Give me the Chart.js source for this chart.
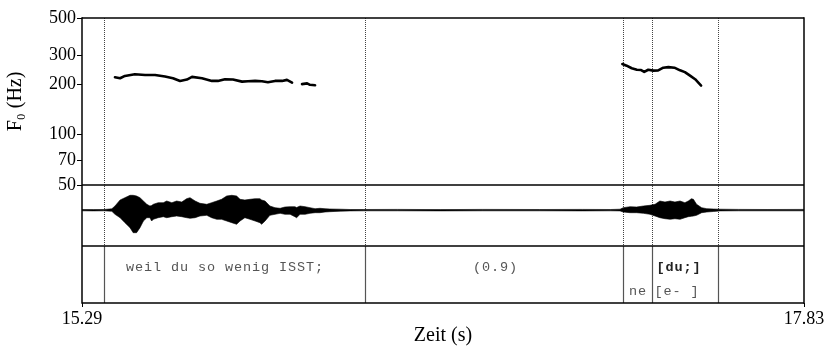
<!DOCTYPE html>
<html><head><meta charset="utf-8">
<script src="https://cdn.jsdelivr.net/npm/chart.js@4"></script>
<style>html,body{margin:0;padding:0;background:#fff}</style>
</head><body>
<canvas id="c" width="827" height="350"></canvas>
<script>
// ---- data ----
const timeRange = [15.29, 17.83];
const xTickLabels = ['15.29', '17.83'];
const pitchTicks = [50, 70, 100, 200, 300, 500];

const f0Seg1Time = [15.406,15.424,15.441,15.476,15.512,15.547,15.582,15.610,15.635,15.659,15.677,15.712,15.747,15.768,15.793,15.821,15.853,15.874,15.899,15.923,15.944,15.969,15.994,16.011,16.029];
const f0Seg1Hz   = [221,218,225,230,228,228,223,218,210,214,222,218,210,210,215,214,208,209,210,209,206,210,210,213,205];
const f0Seg2Time = [16.064,16.082,16.092,16.110];
const f0Seg2Hz   = [201,203,199,198];
const f0Seg3Time = [17.191,17.206,17.224,17.242,17.257,17.268,17.282,17.300,17.317,17.335,17.353,17.374,17.394,17.411,17.429,17.447,17.468];
const f0Seg3Hz   = [265,259,250,245,244,238,245,242,243,252,254,252,243,237,226,215,197];

const waveTime  = [15.290,15.330,15.367,15.395,15.406,15.424,15.441,15.459,15.470,15.482,15.494,15.506,15.518,15.529,15.535,15.541,15.558,15.576,15.588,15.606,15.623,15.641,15.658,15.670,15.688,15.705,15.729,15.746,15.764,15.781,15.799,15.817,15.834,15.846,15.863,15.881,15.899,15.916,15.922,15.934,15.951,15.969,15.987,16.004,16.022,16.039,16.045,16.057,16.075,16.092,16.110,16.127,16.145,16.162,16.198,16.233,16.279,16.400,16.550,16.700,16.900,17.050,17.150,17.183,17.194,17.218,17.241,17.265,17.288,17.306,17.323,17.341,17.359,17.376,17.394,17.411,17.423,17.434,17.441,17.452,17.470,17.488,17.511,17.534,17.600,17.700,17.830];
const waveUpper = [0.5,0.4,0.5,1.2,4,10,12.3,14.7,14.7,14,12.3,9,5.7,4,4.5,5.7,7.3,7.3,9,7.3,9,8,11.3,12.3,9,6.7,5.7,7.3,9,10.7,14,14.7,14,10.7,10,10.7,11.3,11.3,10,9,4,2.3,1.7,3,3.3,3.3,2.5,4,3.3,2.3,1.3,1.7,1.3,1,0.8,0.5,0.5,0.6,0.4,0.6,0.5,0.6,0.5,0.8,2.3,3.3,3,4,4.7,5.7,9,8,9,8,9,7.3,9,11.3,10.7,5.7,2.3,1.3,1,0.8,0.6,0.5,0.6];
const waveLower = [-0.8,-0.9,-0.8,-1.3,-4.3,-7.7,-12.7,-17.7,-22.7,-22.7,-17.7,-11,-7.7,-7.7,-11,-9.3,-7.7,-6.7,-7.7,-6.7,-6,-6.7,-7.7,-8.3,-7.7,-6,-5.3,-7.7,-9.3,-9.3,-11,-12.7,-14.3,-11,-7.7,-9.3,-11,-12.7,-14.3,-11,-5.3,-4.3,-3.3,-4.3,-4.3,-6.7,-7.7,-4.3,-4.3,-3.3,-2.7,-2.7,-2,-1.7,-1.2,-0.9,-0.8,-0.8,-0.9,-0.8,-0.8,-0.9,-0.8,-0.9,-2,-2.7,-2.7,-3.3,-4.3,-6,-7.7,-8.7,-9.3,-8.7,-9.3,-7.7,-6.7,-6.3,-6,-5.3,-2.7,-2,-1.5,-0.9,-0.8,-0.8,-0.8];

const boundaries = [15.367, 16.286, 17.192, 17.294, 17.528];
const tierLabels = ['weil du so wenig ISST;', '(0.9)', 'ne', '[du;]', '[e- ]'];
const tierLabelTimes = [15.793, 16.745, 17.246, 17.390, 17.383];
const tierLabelRows = [0.57, 0.57, 0.14, 0.57, 0.14];
const tierLabelBold = [false, false, false, true, false];

// ---- helpers ----
const pts = (ts, vs) => ts.map((t, i) => ({x: t, y: vs[i]}));
const pitchLine = (ts, vs) => ({
  data: pts(ts, vs), yAxisID: 'yPitch', borderColor: '#000', borderWidth: 2.6,
  pointRadius: 0, tension: 0, fill: false, borderCapStyle: 'round', borderJoinStyle: 'round'
});

const panelPlugin = {
  id: 'panels',
  beforeDatasetsDraw(chart) {
    const {ctx, scales} = chart;
    const x = scales.x, p = scales.yPitch, w = scales.yWave, t = scales.yTier;
    ctx.save();
    ctx.strokeStyle = '#444';
    ctx.lineWidth = 1;
    ctx.setLineDash([1, 1]);
    boundaries.forEach(b => {
      const px = Math.round(x.getPixelForValue(b)) + 0.5;
      ctx.beginPath(); ctx.moveTo(px, p.top); ctx.lineTo(px, w.bottom); ctx.stroke();
    });
    ctx.setLineDash([]);
    ctx.strokeStyle = '#555';
    ctx.lineWidth = 1.2;
    boundaries.forEach(b => {
      const px = Math.round(x.getPixelForValue(b)) + 0.5;
      ctx.beginPath(); ctx.moveTo(px, t.top); ctx.lineTo(px, t.bottom); ctx.stroke();
    });
    ctx.restore();
  },
  afterDatasetsDraw(chart) {
    const {ctx, scales, chartArea} = chart;
    const x = scales.x, p = scales.yPitch, w = scales.yWave, t = scales.yTier;
    ctx.save();
    ctx.strokeStyle = '#000';
    ctx.lineWidth = 1.5;
    [p.top, w.top, t.top, t.bottom].forEach(y => {
      ctx.beginPath(); ctx.moveTo(chartArea.left, y); ctx.lineTo(chartArea.right, y); ctx.stroke();
    });
    [chartArea.left, chartArea.right].forEach(xx => {
      ctx.beginPath(); ctx.moveTo(xx, p.top - 0.75); ctx.lineTo(xx, t.bottom + 0.75); ctx.stroke();
    });
    ctx.textAlign = 'center';
    ctx.textBaseline = 'alphabetic';
    tierLabels.forEach((lab, i) => {
      ctx.font = (tierLabelBold[i] ? 'bold ' : '') + "13.5px 'Liberation Mono', 'Courier New', monospace";
      ctx.fillStyle = tierLabelBold[i] ? '#222' : '#555';
      try { ctx.letterSpacing = '0.9px'; } catch (e) {}
      ctx.fillText(lab, x.getPixelForValue(tierLabelTimes[i]), t.getPixelForValue(tierLabelRows[i]));
    });
    ctx.restore();
  }
};

Chart.defaults.font.family = "'Liberation Serif', 'Times New Roman', serif";
Chart.defaults.color = '#000';

new Chart(document.getElementById('c'), {
  type: 'line',
  data: {
    datasets: [
      pitchLine(f0Seg1Time, f0Seg1Hz),
      pitchLine(f0Seg2Time, f0Seg2Hz),
      pitchLine(f0Seg3Time, f0Seg3Hz),
      {data: pts(waveTime, waveUpper), yAxisID: 'yWave', borderColor: '#000', borderWidth: 0.6, pointRadius: 0, tension: 0, fill: false},
      {data: pts(waveTime, waveLower), yAxisID: 'yWave', borderColor: '#000', borderWidth: 0.6, pointRadius: 0, tension: 0, fill: '-1', backgroundColor: '#000'}
    ]
  },
  options: {
    responsive: false,
    animation: false,
    devicePixelRatio: 1,
    layout: {padding: {top: 18, right: 23, left: 0, bottom: 0}},
    plugins: {legend: {display: false}, tooltip: {enabled: false}},
    scales: {
      x: {
        type: 'linear', position: 'bottom', min: timeRange[0], max: timeRange[1],
        afterBuildTicks: s => { s.ticks = timeRange.map(v => ({value: v})); },
        ticks: {callback: (v, i) => xTickLabels[i], font: {size: 18}, padding: 1, maxRotation: 0, autoSkip: false},
        grid: {drawOnChartArea: false, drawTicks: true, tickLength: 4, color: '#000', lineWidth: 1},
        border: {display: false},
        title: {display: true, text: 'Zeit (s)', font: {size: 20}, padding: {top: 0, bottom: 2}},
        afterFit: s => { s.height = 47; }
      },
      yPitch: {
        type: 'logarithmic', position: 'left', stack: 'v', stackWeight: 167, weight: 3,
        min: 50, max: 500,
        afterBuildTicks: s => { s.ticks = pitchTicks.map(v => ({value: v})); },
        ticks: {callback: v => String(v), font: {size: 18}, padding: 1, autoSkip: false},
        grid: {drawOnChartArea: false, drawTicks: true, tickLength: 5, color: '#000', lineWidth: 1},
        border: {display: false},
        title: {display: true, text: 'F\u2080 (Hz)', font: {size: 20}, padding: {top: 3.5, bottom: 0}},
        afterFit: s => { s.width = 82; }
      },
      yWave: {
        type: 'linear', position: 'left', stack: 'v', stackWeight: 61, weight: 2,
        min: -36, max: 25,
        ticks: {display: false}, grid: {display: false}, border: {display: false},
        afterFit: s => { s.width = 82; }
      },
      yTier: {
        type: 'linear', position: 'left', stack: 'v', stackWeight: 57, weight: 1,
        min: 0, max: 1,
        ticks: {display: false}, grid: {display: false}, border: {display: false},
        afterFit: s => { s.width = 82; }
      }
    }
  },
  plugins: [panelPlugin]
});
</script>
</body></html>
